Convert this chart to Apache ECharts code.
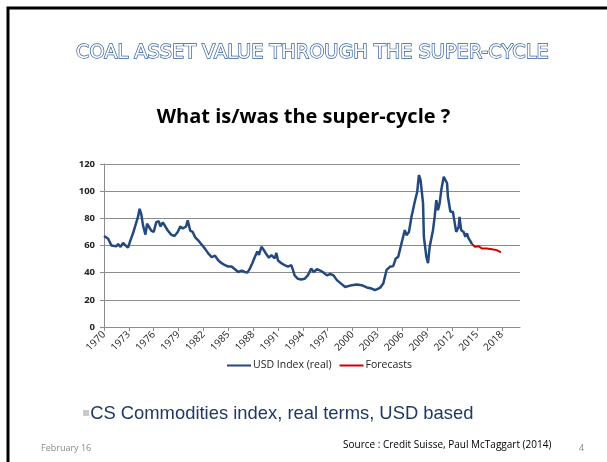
<!DOCTYPE html>
<html>
<head>
<meta charset="utf-8">
<script src="https://cdn.jsdelivr.net/npm/echarts@6/dist/echarts.min.js"></script>
<style>
  html, body { margin: 0; padding: 0; background: #fff; }
  #main { width: 607px; height: 462px; }
</style>
</head>
<body>
<div id="main"></div>
<script>
// CS commodities index, real USD
var usdYears = [1970.0, 1970.5, 1970.9, 1971.5, 1971.7, 1972.0, 1972.3, 1972.6, 1972.9, 1973.2,
  1973.5, 1973.8, 1974.1, 1974.3, 1974.5, 1974.7, 1975.0, 1975.2, 1975.4, 1975.7,
  1976.0, 1976.3, 1976.6, 1976.8, 1977.1, 1977.4, 1977.7, 1978.1, 1978.5, 1978.9,
  1979.2, 1979.5, 1979.9, 1980.1, 1980.4, 1980.7, 1981.0, 1981.4, 1981.8, 1982.2,
  1982.6, 1983.0, 1983.4, 1983.8, 1984.2, 1984.6, 1985.0, 1985.4, 1985.8, 1986.2,
  1986.6, 1987.0, 1987.3, 1987.6, 1987.9, 1988.2, 1988.5, 1988.7, 1989.0, 1989.3,
  1989.6, 1989.9, 1990.2, 1990.4, 1990.6, 1990.8, 1991.0, 1991.4, 1991.8, 1992.2,
  1992.6, 1992.8, 1993.0, 1993.4, 1993.8, 1994.2, 1994.6, 1995.0, 1995.3, 1995.7,
  1996.1, 1996.4, 1996.9, 1997.3, 1997.7, 1998.1, 1998.5, 1999.1, 1999.9, 2000.5,
  2001.1, 2001.7, 2002.3, 2002.7, 2003.3, 2003.7, 2004.1, 2004.5, 2004.9, 2005.2,
  2005.5, 2005.7, 2006.0, 2006.3, 2006.5, 2006.8, 2007.1, 2007.5, 2007.8, 2008.0,
  2008.2, 2008.5, 2008.6, 2008.9, 2009.1, 2009.3, 2009.7, 2009.9, 2010.1, 2010.3,
  2010.5, 2010.7, 2011.0, 2011.4, 2011.5, 2011.8, 2012.1, 2012.3, 2012.5, 2012.8,
  2012.9, 2013.1, 2013.4, 2013.6, 2013.8, 2014.0, 2014.2, 2014.4];
var usdValues = [67, 65, 60, 59.5, 61, 59, 62, 60, 58.5, 64,
  69, 75, 81, 87, 83, 75, 68, 76, 74, 71,
  70, 77, 78, 74, 77, 74, 71, 68, 67, 70,
  74, 72.5, 74, 78.5, 71, 70, 66, 63.5, 60.5, 57.5,
  54, 51.5, 52.5, 49, 47, 45.5, 44.5, 44.5, 42.5, 40.5,
  41.5, 40.5, 40, 43, 47, 51.5, 55.5, 53, 59, 56.5,
  53.5, 51, 53, 54, 50.5, 54.5, 49, 47, 45.5, 44.5,
  45.5, 42, 38, 35.5, 35, 35.5, 38, 43, 40.5, 42.5,
  41.5, 40.5, 38, 39, 38, 34.5, 32.5, 29.5, 30.8, 31.3,
  30.8, 29.1, 28.3, 27.1, 28.8, 32, 42, 44.3, 44.8, 50.4,
  51.6, 56.6, 64, 71.3, 67.6, 70, 81, 92.2, 99.6, 111.9,
  108.2, 91, 66.4, 51.6, 47, 59, 71.3, 81, 93.4, 86,
  91, 100.8, 110.6, 105.8, 95.9, 84.8, 84.8, 77.4, 70, 73.8,
  81, 71.3, 70, 66.4, 68.9, 65.2, 63.4, 61];
var fcYears = [2014.4, 2014.8, 2015.2, 2015.6, 2016.2, 2016.8, 2017.4, 2017.9];
var fcValues = [61, 59, 59.5, 57.8, 57.8, 57.3, 56.6, 54.9];
var yearTicks = [1970, 1973, 1976, 1979, 1982, 1985, 1988, 1991, 1994, 1997, 2000, 2003, 2006, 2009, 2012, 2015, 2018];

function pairs(xs, ys) {
    var out = [];
    for (var i = 0; i < xs.length; i++) {
        out.push([xs[i], ys[i]]);
    }
    return out;
}

var myChart = echarts.init(document.getElementById('main'));

var option = {
    backgroundColor: '#fff',
    animation: false,
    title: [
        {
            text: 'COAL ASSET VALUE THROUGH THE SUPER-CYCLE',
            left: 71, top: 38,
            textStyle: {
                fontFamily: 'DejaVu Sans', fontSize: 19.3, fontWeight: 'normal',
                color: '#fff', textBorderColor: '#2F5D9A', textBorderWidth: 1.4
            }
        },
        {
            text: 'What is/was the super-cycle ?',
            left: 'center', top: 102,
            textStyle: { fontFamily: 'Open Sans', fontSize: 20, fontWeight: 'bold', color: '#000' }
        },
        {
            text: '{b|\u25AA}CS Commodities index, real terms, USD based',
            left: 77, top: 400,
            textStyle: {
                fontFamily: 'Liberation Sans', fontSize: 18.4, fontWeight: 'normal', color: '#1F3864',
                rich: { b: { fontFamily: 'DejaVu Sans', fontSize: 12, color: '#c8c8c8', padding: [0, 0, 3, 0] } }
            }
        },
        {
            text: 'February 16',
            left: 36, top: 439,
            textStyle: { fontFamily: 'Open Sans', fontSize: 9, fontWeight: 'normal', color: '#8a8a8a' }
        },
        {
            text: 'Source : Credit Suisse, Paul McTaggart (2014)',
            left: 338, top: 435,
            textStyle: { fontFamily: 'Open Sans', fontSize: 10, fontWeight: 'normal', color: '#000' }
        },
        {
            text: '4',
            left: 574, top: 439,
            textStyle: { fontFamily: 'Open Sans', fontSize: 9, fontWeight: 'normal', color: '#8a8a8a' }
        }
    ],
    graphic: [
        {
            type: 'polyline',
            shape: { points: [[8, 462], [8, 8], [607, 8]] },
            style: { stroke: '#000', lineWidth: 3, fill: null }
        }
    ],
    legend: {
        bottom: 86,
        left: 222,
        itemWidth: 24,
        itemHeight: 2,
        itemGap: 8,
        icon: 'rect',
        textStyle: { fontFamily: 'Open Sans', fontSize: 10.5, color: '#222', padding: [0, 0, 0, -3] },
        data: ['USD Index (real)', 'Forecasts']
    },
    grid: { left: 104, right: 87, top: 164, bottom: 135 },
    xAxis: {
        type: 'value',
        min: 1970,
        max: 2020.2,
        interval: 3,
        axisLine: { lineStyle: { color: '#8c8c8c', width: 1 } },
        axisTick: { show: true, length: 4, lineStyle: { color: '#8c8c8c' } },
        splitLine: { show: false },
        axisLabel: {
            rotate: 45, fontSize: 10, color: '#222', fontFamily: 'Open Sans',
            showMaxLabel: false, margin: 6,
            formatter: function (v) { return yearTicks.indexOf(v) >= 0 ? String(v) : ''; }
        }
    },
    yAxis: {
        type: 'value',
        min: 0,
        max: 120,
        interval: 20,
        axisLine: { show: true, lineStyle: { color: '#8c8c8c', width: 1 } },
        axisTick: { show: true, length: 4, lineStyle: { color: '#8c8c8c' } },
        splitLine: { lineStyle: { color: '#8c8c8c', width: 1 } },
        axisLabel: { fontSize: 9.5, fontWeight: 'bold', color: '#222', fontFamily: 'Open Sans', margin: 9 }
    },
    series: [
        {
            name: 'USD Index (real)',
            type: 'line',
            showSymbol: false,
            itemStyle: { color: '#24497E' },
            lineStyle: { color: '#24497E', width: 2.5 },
            data: pairs(usdYears, usdValues)
        },
        {
            name: 'Forecasts',
            type: 'line',
            showSymbol: false,
            itemStyle: { color: '#D00000' },
            lineStyle: { color: '#D00000', width: 2 },
            data: pairs(fcYears, fcValues)
        }
    ]
};
myChart.setOption(option);
</script>
</body>
</html>
